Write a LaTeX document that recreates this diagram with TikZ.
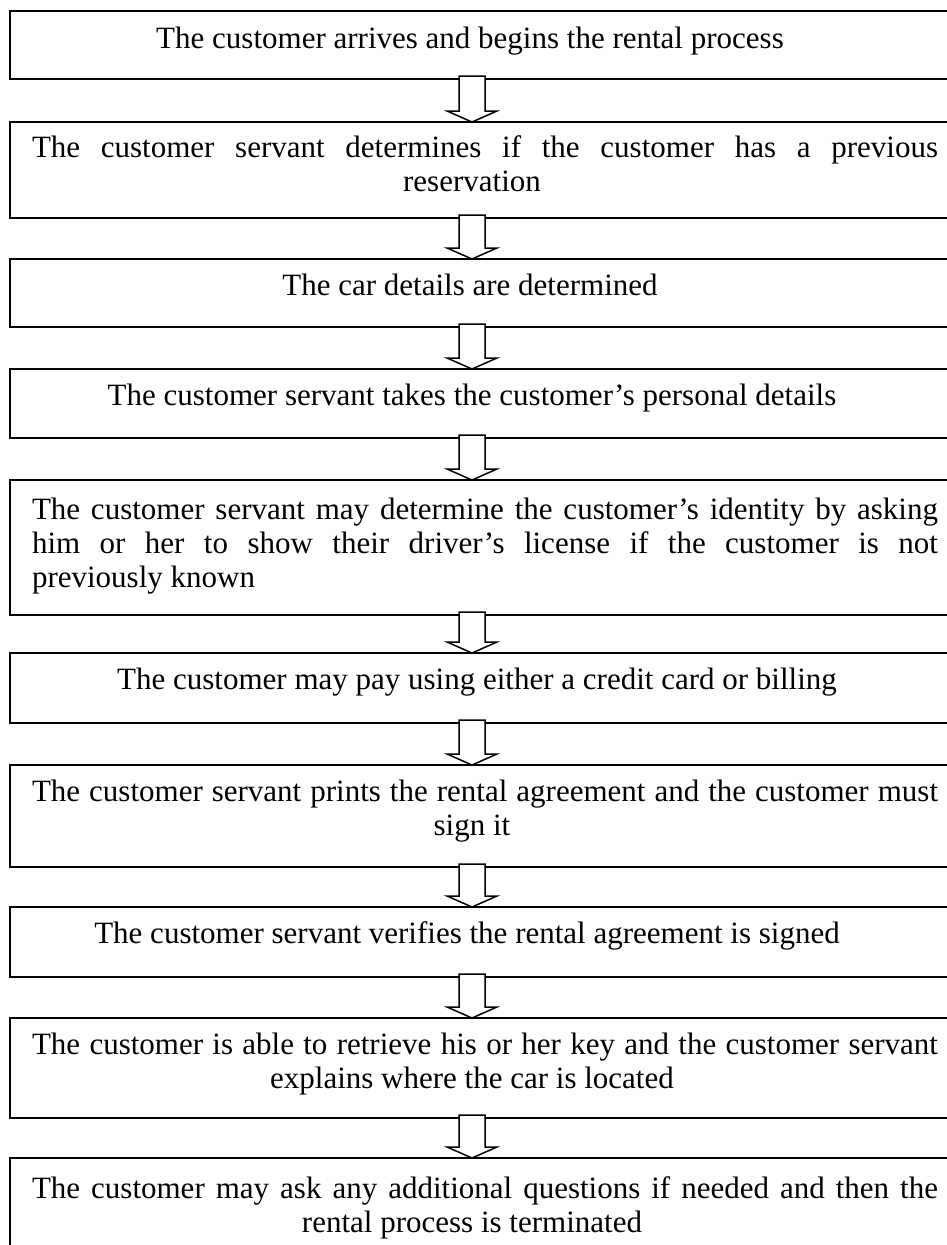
\documentclass[tikz,border=0pt]{standalone}
\usepackage{fontspec}
\setmainfont{Liberation Serif}
\usetikzlibrary{calc}
\newcommand{\myJ}[1]{\hbox to 906pt{#1}}
\newcommand{\myC}[1]{\hbox to 906pt{\hfil #1\hskip 26pt\hfil}}
\newcommand{\myL}[1]{\hbox to 906pt{#1\hfil}}
\newcommand{\myPar}[1]{\vtop{\baselineskip=34pt #1}}
\tikzset{
  box/.style={draw, line width=2pt, rectangle, minimum width=960pt, anchor=north west, inner sep=0pt, outer sep=0pt},
  txt/.style={inner sep=0pt, outer sep=0pt, font=\fontsize{31pt}{34pt}\selectfont},
  blockarrow/.style={draw, fill=white, line width=1.5pt, line join=miter,
    to path={let \p1=(\tikztostart), \p2=(\tikztotarget) in
      (\x1-13pt,\y1+3pt) -- (\x1+13pt,\y1+3pt) -- (\x1+13pt,\y2+11pt) -- (\x1+25pt,\y2+11pt)
      -- (\x2,\y2) -- (\x1-25pt,\y2+11pt) -- (\x1-13pt,\y2+11pt) -- cycle}}
}
\begin{document}
\begin{tikzpicture}[x=1pt,y=-1pt]
\useasboundingbox (0,0) rectangle (947,1245);
\clip (0,0) rectangle (947,1245);
\coordinate (ax) at (472,0);
% boxes
\node[box, minimum height=68pt]  (b1)  at (10,11)   {};
\node[box, minimum height=96pt]  (b2)  at (10,122)  {};
\node[box, minimum height=68pt]  (b3)  at (10,259)  {};
\node[box, minimum height=69pt]  (b4)  at (10,369)  {};
\node[box, minimum height=135pt] (b5)  at (10,480)  {};
\node[box, minimum height=70pt]  (b6)  at (10,653)  {};
\node[box, minimum height=102pt] (b7)  at (10,765)  {};
\node[box, minimum height=70pt]  (b8)  at (10,907)  {};
\node[box, minimum height=100pt] (b9)  at (10,1018) {};
\node[box, minimum height=150pt] (b10) at (10,1158) {};
% texts
\node[txt, anchor=base] (t1) at (470,48) {The customer arrives and begins the rental process};
\node[txt, anchor=base west] (t2) at (32,157) {\myPar{\myJ{The customer servant determines if the customer has a previous}\myC{reservation}}};
\node[txt, anchor=base] (t3) at (470,295) {The car details are determined};
\node[txt, anchor=base] (t4) at (472,405) {The customer servant takes the customer’s personal details};
\node[txt, anchor=base west] (t5) at (32,519) {\myPar{\myJ{The customer servant may determine the customer’s identity by asking}\myJ{him or her to show their driver’s license if the customer is not}\myL{previously known}}};
\node[txt, anchor=base] (t6) at (477,689) {The customer may pay using either a credit card or billing};
\node[txt, anchor=base west] (t7) at (32,801) {\myPar{\myJ{The customer servant prints the rental agreement and the customer must}\myC{sign it}}};
\node[txt, anchor=base] (t8) at (467,943) {The customer servant verifies the rental agreement is signed};
\node[txt, anchor=base west] (t9) at (32,1054) {\myPar{\myJ{The customer is able to retrieve his or her key and the customer servant}\myC{explains where the car is located}}};
\node[txt, anchor=base west] (t10) at (32,1198) {\myPar{\myJ{The customer may ask any additional questions if needed and then the}\myC{rental process is terminated}}};
% arrows
\draw[blockarrow] (b1.south -| ax) to (b2.north -| ax);
\draw[blockarrow] (b2.south -| ax) to (b3.north -| ax);
\draw[blockarrow] (b3.south -| ax) to (b4.north -| ax);
\draw[blockarrow] (b4.south -| ax) to (b5.north -| ax);
\draw[blockarrow] (b5.south -| ax) to (b6.north -| ax);
\draw[blockarrow] (b6.south -| ax) to (b7.north -| ax);
\draw[blockarrow] (b7.south -| ax) to (b8.north -| ax);
\draw[blockarrow] (b8.south -| ax) to (b9.north -| ax);
\draw[blockarrow] (b9.south -| ax) to (b10.north -| ax);
\end{tikzpicture}
\end{document}
